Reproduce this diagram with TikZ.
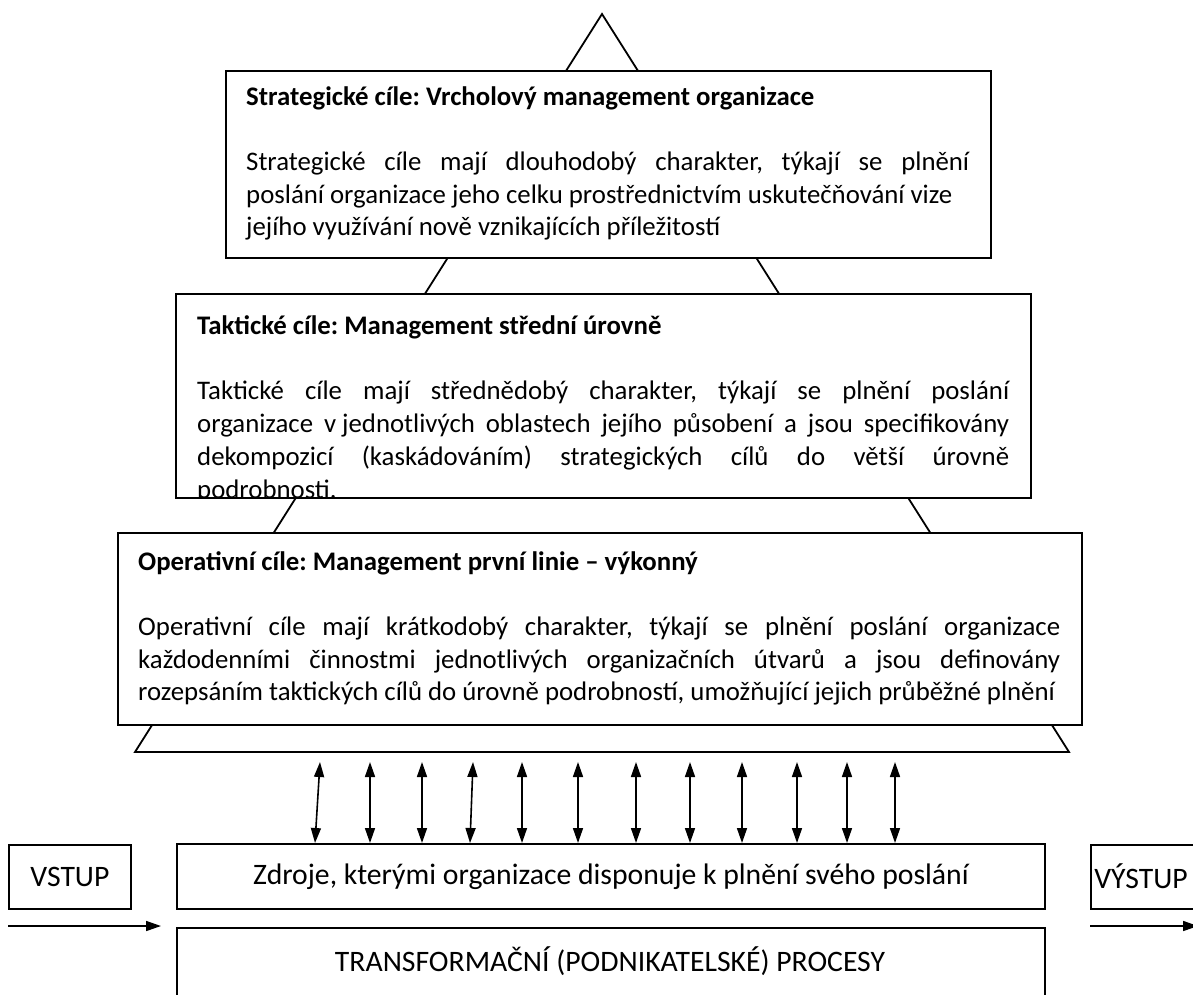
\documentclass[tikz,border=0pt]{standalone}
\usepackage{fontspec}
\setmainfont{Carlito}
\usetikzlibrary{arrows.meta}
\frenchspacing

% one justified line of given width
\newcommand{\jline}[2]{\makebox[#1pt][s]{#2}}
% fixed (non-stretching) space
\newcommand{\fsp}{\kern.226em}

\tikzset{
  frame/.style={draw, line width=1.8pt, fill=white, inner sep=0pt, anchor=north west},
  ttl/.style={font=\bfseries\fontsize{26.8}{32.7}\selectfont, anchor=base west, inner sep=0pt},
  txt/.style={font=\fontsize{26.8}{32.7}\selectfont, anchor=base west, inner sep=0pt},
  big/.style={font=\fontsize{29.7}{36}\selectfont, inner sep=0pt},
  dbl/.style={{Triangle[length=15pt,width=10pt]}-{Triangle[length=15pt,width=10pt]}, line width=1.6pt},
  sgl/.style={-{Triangle[length=15pt,width=10pt]}, line width=1.6pt},
}

\begin{document}
\begin{tikzpicture}[x=1pt, y=-1pt]
\useasboundingbox (0,0) rectangle (1193,994);

% the pyramid behind the three levels
\coordinate (apex) at (602,14);
\coordinate (baseL) at (135,752);
\coordinate (baseR) at (1069,752);
\draw[line width=1.8pt, line join=miter] (apex) -- (baseL) -- (baseR) -- cycle;

% strategic level
\node[frame, minimum width=765pt, minimum height=187pt] (sbox) at (225,70) {};
\node[ttl] (stitle) at (246,105) {Strategické cíle: Vrcholový management organizace};
\node[txt] (s1) at (246,170.4) {\jline{723}{Strategické cíle mají dlouhodobý charakter, týkají se plnění}};
\node[txt] (s2) at (246,203.1) {poslání organizace jeho celku prostřednictvím uskutečňování vize};
\node[txt] (s3) at (246,235.8) {jejího využívání nově vznikajících příležitostí};

% tactical level
\node[frame, minimum width=855pt, minimum height=204pt] (tbox) at (175,293) {};
\begin{scope}
  \clip (tbox.south west) rectangle (tbox.north east);
  \node[ttl] (ttitle) at (197,334.5) {Taktické cíle: Management střední úrovně};
  \node[txt] (t1) at (197,399.9) {\jline{812}{Taktické cíle mají střednědobý charakter, týkají se plnění poslání}};
  \node[txt] (t2) at (197,432.6) {\jline{812}{organizace v\fsp jednotlivých oblastech jejího působení a jsou specifikovány}};
  \node[txt] (t3) at (197,465.3) {\jline{812}{dekompozicí (kaskádováním) strategických cílů do větší úrovně}};
  \node[txt] (t4) at (197,498) {podrobnosti.};
\end{scope}

% operative level
\node[frame, minimum width=964pt, minimum height=192pt] (obox) at (117,532) {};
\node[ttl] (otitle) at (138,570) {Operativní cíle: Management první linie – výkonný};
\node[txt] (o1) at (138,635.4) {\jline{922}{Operativní cíle mají krátkodobý charakter, týkají se plnění poslání organizace}};
\node[txt] (o2) at (138,668.1) {\jline{922}{každodenními činnostmi jednotlivých organizačních útvarů a jsou definovány}};
\node[txt] (o3) at (138,700.8) {rozepsáním taktických cílů do úrovně podrobností, umožňující jejich průběžné plnění};

% resources, inputs and outputs
\node[frame, minimum width=122pt, minimum height=64pt] (vstup) at (8,844) {};
\node[big] (vstupT) at (vstup.center) {VSTUP};
\node[frame, minimum width=868pt, minimum height=65pt] (zdroje) at (176,843) {};
\node[big] (zdrojeT) at (zdroje.center) {Zdroje, kterými organizace disponuje k plnění svého poslání};
\node[frame, minimum width=130pt, minimum height=64pt] (vystup) at (1090,844) {};
\node[big] (vystupT) at (1141,876) {VÝSTUP};
\node[frame, minimum width=868pt, minimum height=100pt] (proc) at (176,927) {};
\node[big] (procT) at (610,961) {TRANSFORMAČNÍ (PODNIKATELSKÉ) PROCESY};

% flows between the pyramid and the resources
\foreach \xt/\xb [count=\i] in {320/315, 370/370, 422/422, 473/470, 522/522, 578/578, 636/636, 690/690, 742/742, 797/797, 847/847, 895/895}{
  \coordinate (up\i) at (\xt,762);
  \coordinate (dn\i) at (\xb,843);
  \draw[dbl] (up\i) -- (dn\i);
}

% input and output flows
\coordinate (inA) at (8,926);
\coordinate (inB) at (161,926);
\draw[sgl] (inA) -- (inB);
\coordinate (outA) at (1090,926);
\coordinate (outB) at (1198,926);
\draw[sgl] (outA) -- (outB);
\end{tikzpicture}
\end{document}
